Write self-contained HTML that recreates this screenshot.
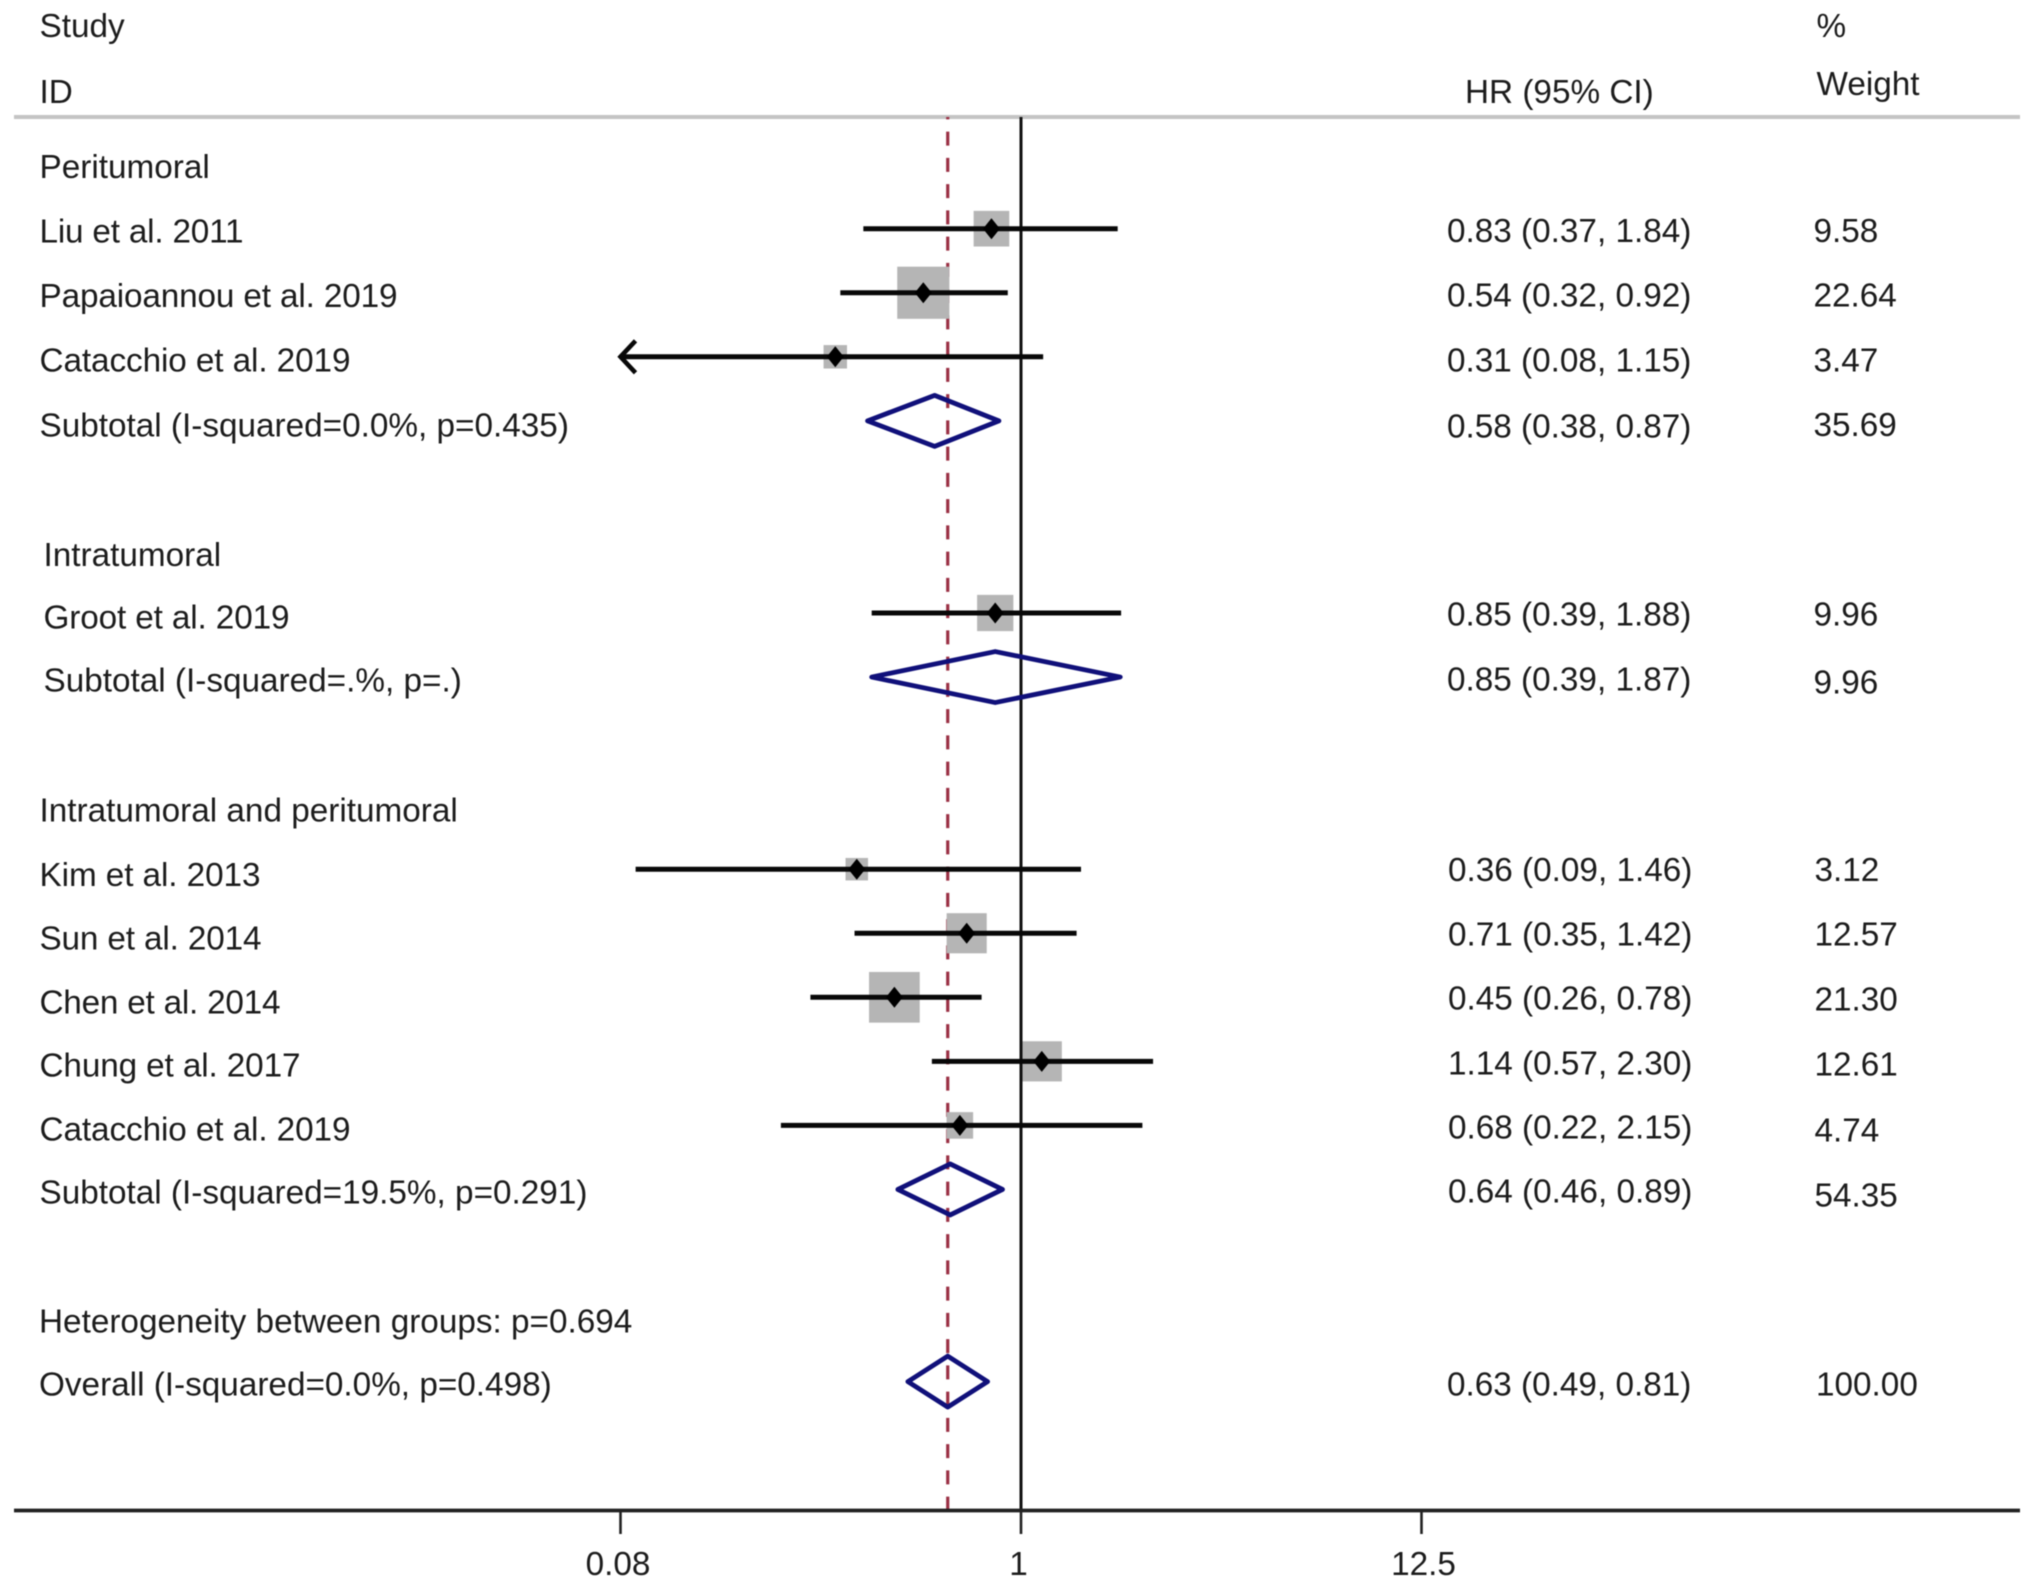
<!DOCTYPE html>
<html lang="en">
<head>
<meta charset="utf-8">
<title>Forest plot of hazard ratios</title>
<style>
html,body{margin:0;padding:0;background:#fff;}
svg{display:block;filter:blur(0.5px);}
text{font-family:"Liberation Sans",Arial,sans-serif;font-size:33.3px;fill:#1c1c1c;}
</style>
</head>
<body>
<svg id="chart" xmlns="http://www.w3.org/2000/svg" width="2032" height="1588" viewBox="0 0 2032 1588">
  <rect x="0" y="0" width="2032" height="1588" fill="#ffffff"/>
  <g id="marks"></g>

  <g transform="translate(-0.5,-0.5)">
    <text x="40" y="37.5">Study</text>
    <text x="40" y="103.5">ID</text>
    <text x="40" y="178.5">Peritumoral</text>
    <text x="40" y="243" textLength="204">Liu et al. 2011</text>
    <text x="40" y="307.5" textLength="358">Papaioannou et al. 2019</text>
    <text x="40" y="372" textLength="311">Catacchio et al. 2019</text>
    <text x="40" y="437">Subtotal (I-squared=0.0%, p=0.435)</text>
    <text x="44" y="566.5">Intratumoral</text>
    <text x="44" y="629" textLength="246">Groot et al. 2019</text>
    <text x="44" y="692">Subtotal (I-squared=.%, p=.)</text>
    <text x="40" y="822">Intratumoral and peritumoral</text>
    <text x="40" y="886.5" textLength="221">Kim et al. 2013</text>
    <text x="40" y="950" textLength="222">Sun et al. 2014</text>
    <text x="40" y="1014" textLength="241">Chen et al. 2014</text>
    <text x="40" y="1077" textLength="261">Chung et al. 2017</text>
    <text x="40" y="1141" textLength="311">Catacchio et al. 2019</text>
    <text x="40" y="1204">Subtotal (I-squared=19.5%, p=0.291)</text>
    <text x="39.5" y="1333">Heterogeneity between groups: p=0.694</text>
    <text x="39.5" y="1396">Overall (I-squared=0.0%, p=0.498)</text>
  </g>

  <g transform="translate(0,-0.4)">
    <text x="1465" y="103.5">HR (95% CI)</text>
    <text x="1447" y="242.5">0.83 (0.37, 1.84)</text>
    <text x="1447" y="307">0.54 (0.32, 0.92)</text>
    <text x="1447" y="372">0.31 (0.08, 1.15)</text>
    <text x="1447" y="438">0.58 (0.38, 0.87)</text>
    <text x="1447" y="626">0.85 (0.39, 1.88)</text>
    <text x="1447" y="691">0.85 (0.39, 1.87)</text>
    <text x="1448" y="881.5">0.36 (0.09, 1.46)</text>
    <text x="1448" y="946">0.71 (0.35, 1.42)</text>
    <text x="1448" y="1010">0.45 (0.26, 0.78)</text>
    <text x="1448" y="1075">1.14 (0.57, 2.30)</text>
    <text x="1448" y="1139">0.68 (0.22, 2.15)</text>
    <text x="1448" y="1203">0.64 (0.46, 0.89)</text>
    <text x="1447" y="1396">0.63 (0.49, 0.81)</text>
  </g>

  <g transform="translate(-0.5,-0.4)">
    <text x="1817" y="37.5">%</text>
    <text x="1817" y="95.5">Weight</text>
    <text x="1814" y="242.5">9.58</text>
    <text x="1814" y="307">22.64</text>
    <text x="1814" y="372">3.47</text>
    <text x="1814" y="436.5">35.69</text>
    <text x="1814" y="626">9.96</text>
    <text x="1814" y="694">9.96</text>
    <text x="1815" y="881.5">3.12</text>
    <text x="1815" y="946">12.57</text>
    <text x="1815" y="1011">21.30</text>
    <text x="1815" y="1076">12.61</text>
    <text x="1815" y="1142">4.74</text>
    <text x="1815" y="1207">54.35</text>
    <text x="1816.5" y="1396">100.00</text>
  </g>
</svg>
<script>
var tickValues = [0.08, 1, 12.5];
var tickLabels = ['0.08', '1', '12.5'];
var studyRows = [0, 1, 2, 6, 10, 11, 12, 13, 14];
var studyHR = [0.83, 0.54, 0.31, 0.85, 0.355, 0.71, 0.45, 1.14, 0.68];
var studyLower = [0.37, 0.32, 0.08, 0.39, 0.088, 0.35, 0.265, 0.57, 0.22];
var studyUpper = [1.84, 0.92, 1.15, 1.88, 1.46, 1.42, 0.78, 2.30, 2.15];
var studyWeight = [9.58, 22.64, 3.47, 9.96, 3.12, 12.57, 21.30, 12.61, 4.74];
var pooledRows = [3, 7, 15, 18];
var pooledHR = [0.58, 0.85, 0.64, 0.63];
var pooledLower = [0.38, 0.39, 0.46, 0.49];
var pooledUpper = [0.87, 1.87, 0.89, 0.81];
var overallHR = 0.63;
var nullValue = 1;

var NS = 'http://www.w3.org/2000/svg';
var root = document.getElementById('marks');
var axisMin = tickValues[0];
var axisMax = tickValues[tickValues.length - 1];
var axisY = 1510.5;
var topY = 117;

function xScale(v) {
  return 1021 + Math.log(v) / Math.log(axisMax) * 400.5;
}
function yRow(r) {
  return 228.7 + 64.05 * r;
}
function add(tag, attrs) {
  var el = document.createElementNS(NS, tag);
  for (var k in attrs) { el.setAttribute(k, attrs[k]); }
  root.appendChild(el);
  return el;
}
function hline(x1, x2, y, color, w) {
  return add('line', {x1: x1, x2: x2, y1: y, y2: y, stroke: color, 'stroke-width': w});
}

var el;
el = hline(14, 2020, topY, '#c4c4c4', 4);



el = add('line', {x1: xScale(overallHR), x2: xScale(overallHR), y1: topY, y2: axisY, stroke: '#9a3044', 'stroke-width': 3.2, 'stroke-dasharray': '14 12.25', 'stroke-dashoffset': '11.6'});



studyRows.forEach(function (row, i) {
  var cx = xScale(studyHR[i]);
  var cy = yRow(row);
  var side = 5 + 9.9 * Math.sqrt(studyWeight[i]);
  var box = add('rect', {x: cx - side / 2, y: cy - side / 2, width: side, height: side, fill: '#b5b5b5'});
  
  
});

el = add('line', {x1: xScale(nullValue), x2: xScale(nullValue), y1: topY, y2: axisY, stroke: '#111', 'stroke-width': 3});



studyRows.forEach(function (row, i) {
  var cx = xScale(studyHR[i]);
  var cy = yRow(row);
  var clipped = studyLower[i] <= axisMin;
  var x1 = clipped ? xScale(axisMin) : xScale(studyLower[i]);
  var ci = hline(x1, xScale(studyUpper[i]), cy, '#080808', 5);
  
  
  if (clipped) {
    var tip = x1;
    var arrow = add('polyline', {points: (tip + 15) + ',' + (cy - 16) + ' ' + tip + ',' + cy + ' ' + (tip + 15) + ',' + (cy + 16), fill: 'none', stroke: '#080808', 'stroke-width': 4.6});
    
    
  }
  var pts = [[cx - 8.5, cy], [cx, cy - 10.5], [cx + 8.5, cy], [cx, cy + 10.5]].join(' ');
  var dot = add('polygon', {points: pts, fill: '#000'});
  
  
});

pooledRows.forEach(function (row, i) {
  var cy = yRow(row);
  var pts = [[xScale(pooledLower[i]), cy], [xScale(pooledHR[i]), cy - 25.5], [xScale(pooledUpper[i]), cy], [xScale(pooledHR[i]), cy + 25.5]].join(' ');
  var d = add('polygon', {points: pts, fill: 'none', stroke: '#10107a', 'stroke-width': 4.8, 'stroke-linejoin': 'round'});
  
  
});

el = hline(14, 2020, axisY, '#222', 3.8);



tickValues.forEach(function (v, i) {
  var x = xScale(v);
  var t = add('line', {x1: x, x2: x, y1: axisY, y2: 1534, stroke: '#222', 'stroke-width': 2.6});
  
  
  var label = add('text', {x: i === 2 ? x + 2 : x - 2.5, y: 1575, 'text-anchor': 'middle'});
  label.textContent = tickLabels[i];
  
  
});
</script>
</body>
</html>
